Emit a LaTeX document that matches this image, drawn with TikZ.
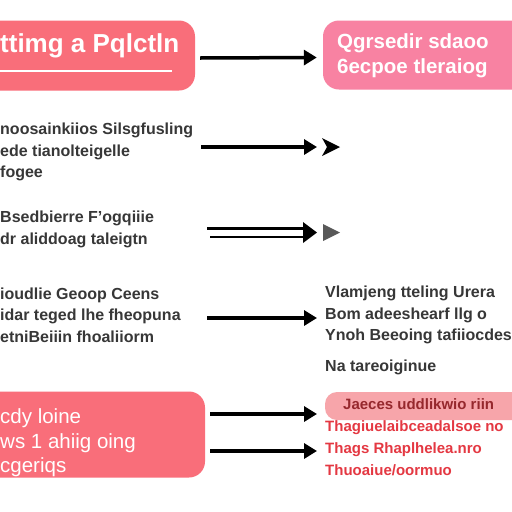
\documentclass[tikz,border=0pt]{standalone}
\usepackage{fontspec}
\setmainfont{Liberation Sans}
\usetikzlibrary{arrows.meta}
\definecolor{coral}{RGB}{249,110,122}
\definecolor{rosa}{RGB}{248,130,162}
\definecolor{ink}{RGB}{55,55,55}
\definecolor{redink}{RGB}{228,56,66}
\definecolor{darkred}{RGB}{150,40,45}
\definecolor{paleband}{RGB}{247,165,170}

\begin{document}
\begin{tikzpicture}[x=1pt,y=1pt,yscale=-1,
  box/.style={rounded corners=16pt,minimum width=#1},
  txt/.style={anchor=west,inner sep=0pt,align=left,text=ink,font=\fontsize{16}{21.5}\selectfont\bfseries},
  whitetxt/.style={anchor=west,inner sep=0pt,align=left,text=white},
  flow/.style={line width=3.5pt,-{Triangle[length=13pt,width=15pt]}}]
\clip (0,0) rectangle (512,512);
\fill[white] (0,0) rectangle (512,512);

% boxes
\node[box=225,fill=coral,minimum height=70] (plan) at (82.5,55.5) {};
\node[box=210,fill=rosa,minimum height=69] (goal) at (428,55) {};
\node[box=235,fill=coral,minimum height=86] (care) at (87.5,434.5) {};
\node[box=210,fill=paleband,minimum height=28,rounded corners=12pt] (band) at (430,406) {};

% texts
\node[whitetxt,font=\fontsize{26}{30}\selectfont\bfseries] (plantxt) at (0,46) {ttimg a Pqlctln};
\draw[white,line width=2pt] (0,71) -- (172,71);
\node[whitetxt,font=\fontsize{20.5}{25}\selectfont\bfseries] (goaltxt) at (337,55.5) {Qgrsedir sdaoo\\6ecpoe tleraiog};
\node[txt] (steps) at (0,152) {noosainkiios Silsgfusling\\ede tianolteigelle\\fogee};
\node[txt] (review) at (0,229.5) {Bsedbierre F'ogqiiie\\dr aliddoag taleigtn};
\node[txt] (ideas) at (0,315) {ioudlie Geoop Ceens\\idar teged lhe fheopuna\\etniBeiiin fhoaliiorm};
\node[txt] (notes) at (325,315) {Vlamjeng tteling Urera\\Bom adeeshearf llg o\\Ynoh Beeoing tafiiocdes};
\node[txt] (notes2) at (325,367) {Na tareoiginue};
\node[whitetxt,font=\fontsize{20.5}{24.5}\selectfont] (caretxt) at (0,443) {cdy loine\\ws 1 ahiig oing\\cgeriqs};
\node[txt,text=redink,font=\fontsize{15}{22}\selectfont\bfseries] (result) at (325,437) {\hspace*{18pt}\textcolor{darkred}{Jaeces uddlikwio riin}\\Thagiuelaibceadalsoe no\\Thags Rhaplhelea.nro\\Thuoaiue/oormuo};

% arrow ends
\coordinate (r2a) at (201,147);
\coordinate (r2b) at (317,147);
\coordinate (r4a) at (207,318);
\coordinate (r4b) at (317,318);
\coordinate (b1) at (317,414);
\coordinate (b2) at (317,451);

% arrows
\draw[flow] ([xshift=5pt,yshift=2.5pt]plan.east) -- ([xshift=-6pt,yshift=2.5pt]goal.west);
\draw[flow] (r2a) -- (r2b);
\fill (322,138) -- (340,147) -- (322,156) -- (327,147) -- cycle;
\draw[line width=3pt] (207,228) -- (306,228);
\draw[line width=2.5pt] (210,237) -- (306,237);
\fill (303,222) -- (317,232.5) -- (303,243) -- cycle;
\fill[gray!70!black] (323,224) -- (340,232.5) -- (323,241) -- cycle;
\draw[flow] (r4a) -- (r4b);
\draw[flow] ([xshift=5pt,yshift=-20.5pt]care.east) -- (b1);
\draw[flow] ([xshift=5pt,yshift=16.5pt]care.east) -- (b2);
\end{tikzpicture}
\end{document}
